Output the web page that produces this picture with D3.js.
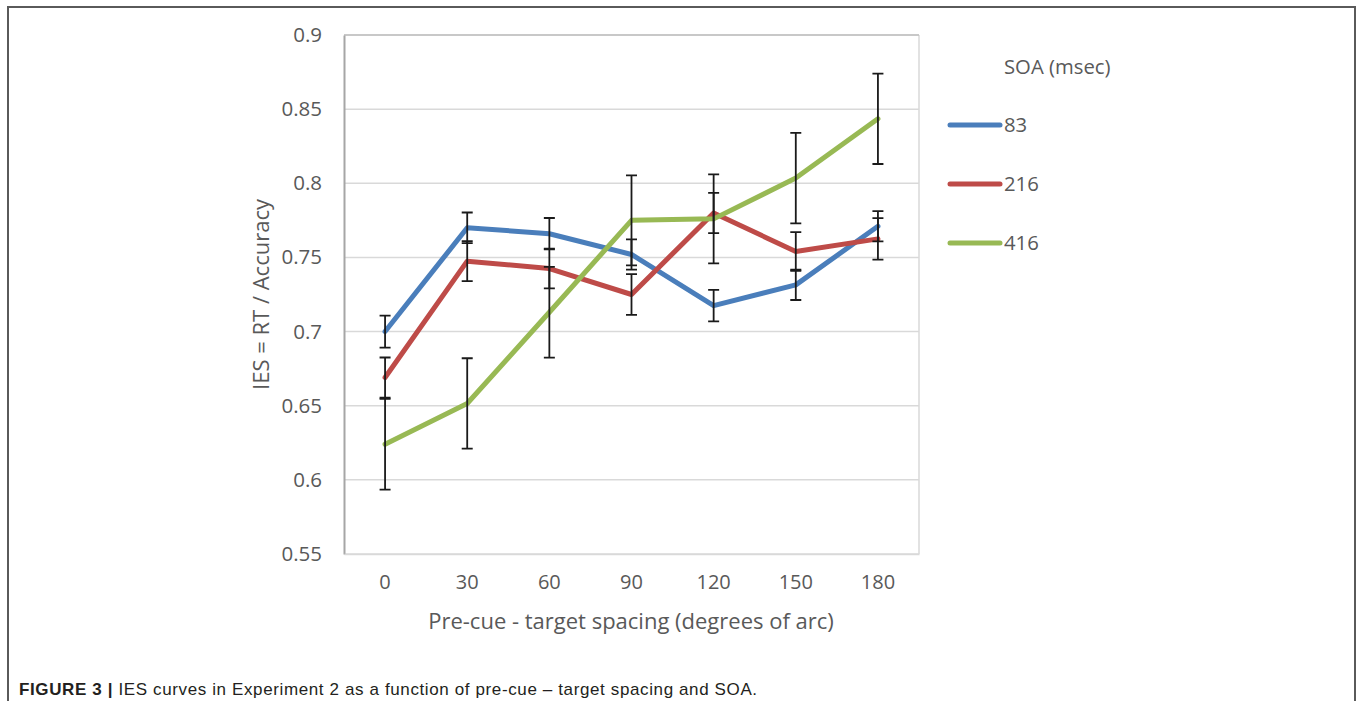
<!DOCTYPE html>
<html>
<head>
<meta charset="utf-8">
<script src="https://cdn.jsdelivr.net/npm/d3@7/dist/d3.min.js"></script>
<style>
  html, body { margin: 0; padding: 0; background: #fff; }
  svg { display: block; }
</style>
</head>
<body>
<svg id="chart" width="1357" height="701"></svg>
<script>
// Pre-cue – target spacing (degrees of arc)
const spacings = ["0", "30", "60", "90", "120", "150", "180"];
// SOA groups (msec)
const soaLabels = ["83", "216", "416"];
// Mean IES per spacing for each SOA
const ies83  = [0.700, 0.770, 0.766, 0.752, 0.7175, 0.7315, 0.771];
const ies216 = [0.669, 0.7475, 0.7425, 0.725, 0.780, 0.754, 0.7625];
const ies416 = [0.624, 0.6515, 0.713, 0.775, 0.776, 0.8035, 0.8435];
// Error bar half-lengths
const err83  = [0.0108, 0.0103, 0.0106, 0.0102, 0.0106, 0.0102, 0.0102];
const err216 = [0.0135, 0.0135, 0.0134, 0.0137, 0.0136, 0.0130, 0.0140];
const err416 = [0.0306, 0.0305, 0.0306, 0.0303, 0.0300, 0.0305, 0.0305];
const yTicks = [0.55, 0.6, 0.65, 0.7, 0.75, 0.8, 0.85, 0.9];
const colors = ["#4a7ebb", "#be4b48", "#98b954"];

const series = soaLabels.map((label, i) => ({
  label,
  color: colors[i],
  values: [ies83, ies216, ies416][i],
  errors: [err83, err216, err416][i]
}));

const svg = d3.select("#chart");
const font = "'Open Sans', Lato, sans-serif";
const textGray = "#595959";

// outer figure frame
svg.append("path")
  .attr("d", "M8,720 L8,7 L1355,7 L1355,720")
  .attr("fill", "none")
  .attr("stroke", "#5a5a5a")
  .attr("stroke-width", 2);

const plot = { left: 344, right: 919, top: 35, bottom: 554 };

const x = d3.scaleBand().domain(spacings).range([plot.left, plot.right]);
const y = d3.scaleLinear().domain([0.55, 0.9]).range([plot.bottom, plot.top]);

// gridlines
svg.append("g")
  .selectAll("line")
  .data(yTicks)
  .join("line")
  .attr("x1", plot.left).attr("x2", plot.right)
  .attr("y1", d => y(d)).attr("y2", d => y(d))
  .attr("stroke", "#d9d9d9")
  .attr("stroke-width", 1.5);

// plot area outline
svg.append("line")
  .attr("x1", plot.right).attr("x2", plot.right)
  .attr("y1", plot.top).attr("y2", plot.bottom)
  .attr("stroke", "#d9d9d9").attr("stroke-width", 1.5);
svg.append("line")
  .attr("x1", plot.left).attr("x2", plot.right)
  .attr("y1", plot.top).attr("y2", plot.top)
  .attr("stroke", "#bfbfbf").attr("stroke-width", 1.5);

// y axis
const yAxis = svg.append("g")
  .attr("transform", `translate(${plot.left},0)`)
  .call(d3.axisLeft(y).tickValues(yTicks).tickSize(0).tickPadding(22)
    .tickFormat(d => String(+d.toFixed(2))));
yAxis.select(".domain").attr("stroke", "#a6a6a6").attr("stroke-width", 2);
yAxis.selectAll("text")
  .attr("fill", textGray)
  .style("font-family", font)
  .style("font-size", "20.5px");

// x axis
const xAxis = svg.append("g")
  .attr("transform", `translate(0,${plot.bottom})`)
  .call(d3.axisBottom(x).tickSize(0).tickPadding(21));
xAxis.select(".domain").attr("stroke", "#d9d9d9").attr("stroke-width", 1.5);
xAxis.selectAll("text")
  .attr("fill", textGray)
  .style("font-family", font)
  .style("font-size", "20px");

// axis titles
svg.append("text")
  .attr("x", 631)
  .attr("y", 629)
  .attr("text-anchor", "middle")
  .attr("fill", textGray)
  .style("font-family", font)
  .style("font-size", "22px")
  .text("Pre-cue - target spacing (degrees of arc)");

svg.append("text")
  .attr("transform", `translate(269,${(plot.top + plot.bottom) / 2}) rotate(-90)`)
  .attr("text-anchor", "middle")
  .attr("fill", textGray)
  .style("font-family", font)
  .style("font-size", "22px")
  .text("IES = RT / Accuracy");

const cx = d => x(d) + x.bandwidth() / 2;
const line = d3.line()
  .x((v, i) => cx(spacings[i]))
  .y(v => y(v));

// data lines
svg.append("g")
  .selectAll("path")
  .data(series)
  .join("path")
  .attr("d", s => line(s.values))
  .attr("fill", "none")
  .attr("stroke", s => s.color)
  .attr("stroke-width", 5)
  .attr("stroke-linejoin", "round")
  .attr("stroke-linecap", "round");

// error bars
const cap = 5.5;
const eb = svg.append("g")
  .attr("stroke", "#1a1a1a")
  .attr("stroke-width", 1.8)
  .attr("fill", "none");
series.forEach(s => {
  s.values.forEach((v, i) => {
    const px = cx(spacings[i]);
    const y1 = y(v + s.errors[i]);
    const y2 = y(v - s.errors[i]);
    eb.append("path")
      .attr("d", `M${px},${y1}V${y2}M${px - cap},${y1}H${px + cap}M${px - cap},${y2}H${px + cap}`);
  });
});

// legend
svg.append("text")
  .attr("x", 1004).attr("y", 74)
  .attr("fill", textGray)
  .style("font-family", font)
  .style("font-size", "20.3px")
  .text("SOA (msec)");

const legend = svg.append("g")
  .selectAll("g")
  .data(series)
  .join("g")
  .attr("transform", (d, i) => `translate(0,${125 + i * 59})`);
legend.append("line")
  .attr("x1", 950).attr("x2", 1000)
  .attr("stroke", d => d.color)
  .attr("stroke-width", 5)
  .attr("stroke-linecap", "round");
legend.append("text")
  .attr("x", 1004).attr("y", 7)
  .attr("fill", textGray)
  .style("font-family", font)
  .style("font-size", "20.3px")
  .text(d => d.label);

// caption
const caption = svg.append("text")
  .attr("x", 19).attr("y", 695)
  .attr("fill", "#231f20")
  .style("font-family", "'Liberation Sans', Arial, sans-serif")
  .style("font-size", "17px")
  .style("letter-spacing", "0.62px");
caption.append("tspan").attr("font-weight", "bold").text("FIGURE 3 | ");
caption.append("tspan").text("IES curves in Experiment 2 as a function of pre-cue – target spacing and SOA.");
</script>
</body>
</html>
